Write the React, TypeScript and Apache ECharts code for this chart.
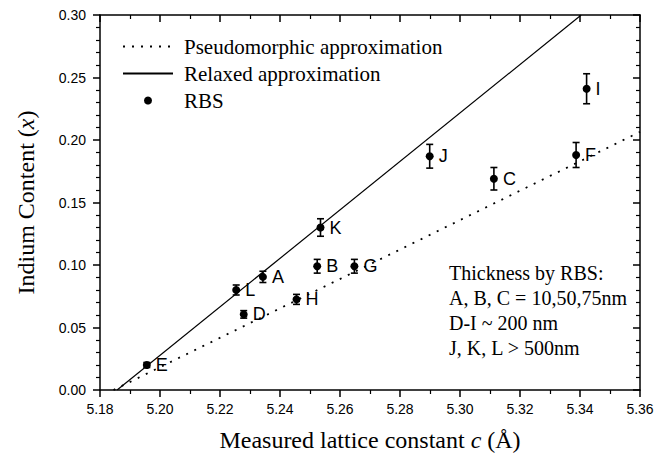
import React, { useEffect, useRef } from "react";
import * as echarts from "echarts";

// ---- data ----
const pointLabels = ["E", "L", "A", "D", "H", "B", "K", "G", "J", "C", "F", "I"];
const latticeC = [5.1956, 5.2254, 5.2343, 5.2279, 5.2455, 5.2524, 5.2535, 5.2648, 5.2899, 5.3113, 5.3387, 5.3422];
const indium = [0.02, 0.08, 0.0905, 0.0605, 0.0725, 0.099, 0.13, 0.099, 0.187, 0.169, 0.188, 0.241];
const indiumErr = [0.002, 0.004, 0.0045, 0.003, 0.004, 0.0055, 0.007, 0.0055, 0.0095, 0.009, 0.01, 0.012];

const relaxedX = [5.1857, 5.3404];
const relaxedY = [0, 0.3];
const pseudoX = [5.1845, 5.36];
const pseudoY = [0, 0.2065];

const seriesNames = ["Pseudomorphic approximation", "Relaxed approximation", "RBS"];
const annotationLines = [
  "Thickness by RBS:",
  "A, B, C = 10,50,75nm",
  "D-I ~ 200 nm",
  "J, K, L > 500nm",
];
const xAxisTitle = "Measured lattice constant {i|c} (Å)";
const yAxisTitle = "Indium Content ({i|x})";

const SERIF = "Liberation Serif";
const SANS = "Liberation Sans";

export default function App() {
  const ref = useRef<HTMLDivElement>(null);

  useEffect(() => {
    document.body.style.margin = "0";
    if (!ref.current) return;
    const chart = echarts.init(ref.current, undefined, { renderer: "svg" });

    const axisCommon = {
      type: "value" as const,
      axisLine: { show: true, onZero: false, lineStyle: { color: "#000", width: 1.5 } },
      splitLine: { show: false },
    };

    const option: any = {
      animation: false,
      backgroundColor: "#fff",
      textStyle: { fontFamily: SERIF },
      grid: { left: 100, right: 29, top: 15, bottom: 70 },
      legend: {
        orient: "vertical",
        left: 117,
        top: 31,
        itemWidth: 50,
        itemHeight: 8,
        itemGap: 6,
        data: [
          { name: seriesNames[0], itemStyle: { opacity: 0 } },
          { name: seriesNames[1], itemStyle: { opacity: 0 } },
          { name: seriesNames[2] },
        ],
        textStyle: { fontFamily: SERIF, fontSize: 21, color: "#000", padding: [0, 0, 0, 6] },
      },
      xAxis: [
        {
          ...axisCommon,
          position: "bottom",
          min: 5.18,
          max: 5.36,
          interval: 0.02,
          axisTick: { show: true, inside: false, length: 7, lineStyle: { color: "#000", width: 1.5 } },
          minorTick: { show: true, splitNumber: 2, length: 4, lineStyle: { color: "#000", width: 1.2 } },
          axisLabel: {
            margin: 12,
            fontFamily: SANS,
            fontSize: 14,
            color: "#000",
            formatter: (v: number) => v.toFixed(2),
          },
          name: xAxisTitle,
          nameLocation: "middle",
          nameGap: 38,
          nameTextStyle: {
            fontFamily: SERIF,
            fontSize: 24,
            color: "#000",
            rich: { i: { fontFamily: SERIF, fontSize: 24, fontStyle: "italic", color: "#000" } },
          },
        },
        {
          ...axisCommon,
          position: "top",
          min: 5.18,
          max: 5.36,
          interval: 0.02,
          axisTick: { show: true, inside: true, length: 7, lineStyle: { color: "#000", width: 1.5 } },
          minorTick: { show: true, splitNumber: 2, length: 4, lineStyle: { color: "#000", width: 1.2 } },
          axisLabel: { show: false },
        },
      ],
      yAxis: [
        {
          ...axisCommon,
          position: "left",
          min: 0,
          max: 0.3,
          interval: 0.05,
          axisTick: { show: true, inside: false, length: 7, lineStyle: { color: "#000", width: 1.5 } },
          minorTick: { show: true, splitNumber: 5, length: 4, lineStyle: { color: "#000", width: 1.2 } },
          axisLabel: {
            margin: 14,
            fontFamily: SANS,
            fontSize: 14,
            color: "#000",
            formatter: (v: number) => v.toFixed(2),
          },
          name: yAxisTitle,
          nameLocation: "middle",
          nameGap: 62,
          nameTextStyle: {
            fontFamily: SERIF,
            fontSize: 24,
            color: "#000",
            rich: { i: { fontFamily: SERIF, fontSize: 24, fontStyle: "italic", color: "#000" } },
          },
        },
        {
          ...axisCommon,
          position: "right",
          min: 0,
          max: 0.3,
          interval: 0.05,
          axisTick: { show: true, inside: true, length: 7, lineStyle: { color: "#000", width: 1.5 } },
          minorTick: { show: true, splitNumber: 5, length: 4, lineStyle: { color: "#000", width: 1.2 } },
          axisLabel: { show: false },
        },
      ],
      series: [
        {
          name: seriesNames[0],
          type: "line",
          xAxisIndex: 0,
          yAxisIndex: 0,
          symbol: "none",
          data: pseudoX.map((x, i) => [x, pseudoY[i]]),
          lineStyle: { color: "#000", width: 1.8, type: [2, 7] },
          itemStyle: { color: "#000" },
          z: 2,
        },
        {
          name: seriesNames[1],
          type: "line",
          xAxisIndex: 0,
          yAxisIndex: 0,
          symbol: "none",
          data: relaxedX.map((x, i) => [x, relaxedY[i]]),
          lineStyle: { color: "#000", width: 1.2, type: "solid" },
          itemStyle: { color: "#000" },
          z: 2,
        },
        {
          type: "custom",
          xAxisIndex: 0,
          yAxisIndex: 0,
          data: latticeC.map((x, i) => [x, indium[i], indiumErr[i]]),
          encode: { x: 0, y: 1 },
          renderItem: (_params: any, api: any) => {
            const x = api.value(0);
            const y = api.value(1);
            const e = api.value(2);
            const top = api.coord([x, y + e]);
            const bot = api.coord([x, y - e]);
            const cap = 3.5;
            const style = { stroke: "#000", lineWidth: 1.6 };
            return {
              type: "group",
              children: [
                { type: "line", shape: { x1: top[0], y1: top[1], x2: bot[0], y2: bot[1] }, style },
                { type: "line", shape: { x1: top[0] - cap, y1: top[1], x2: top[0] + cap, y2: top[1] }, style },
                { type: "line", shape: { x1: bot[0] - cap, y1: bot[1], x2: bot[0] + cap, y2: bot[1] }, style },
              ],
            };
          },
          z: 3,
        },
        {
          name: seriesNames[2],
          type: "scatter",
          xAxisIndex: 0,
          yAxisIndex: 0,
          symbol: "circle",
          symbolSize: 8,
          itemStyle: { color: "#000", opacity: 1 },
          data: latticeC.map((x, i) => ({ name: pointLabels[i], value: [x, indium[i]] })),
          label: {
            show: true,
            position: "right",
            distance: 5,
            formatter: "{b}",
            fontFamily: SANS,
            fontSize: 18,
            color: "#000",
          },
          z: 4,
        },
      ],
      graphic: [
        {
          type: "text",
          left: 449,
          top: 260,
          style: {
            text: annotationLines.join("\n"),
            fontFamily: SERIF,
            fontSize: 20,
            lineHeight: 25,
            fill: "#000",
          },
        },
      ],
    };

    chart.setOption(option);
    return () => chart.dispose();
  }, []);

  return <div ref={ref} style={{ width: 669, height: 460 }} />;
}
